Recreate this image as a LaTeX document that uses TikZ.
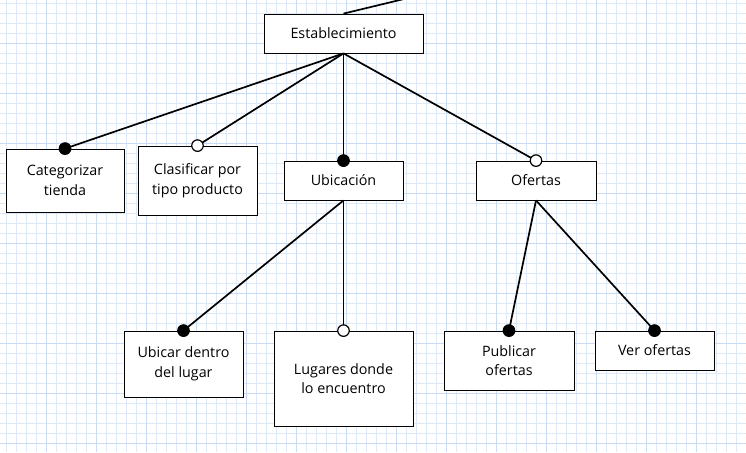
\documentclass[tikz,border=0pt]{standalone}
\usepackage{fontspec}
\setmainfont{Open Sans}
\begin{document}
\begin{tikzpicture}[x=1pt,y=-1pt,
  box/.style={draw=black, line width=0.8pt, fill=white, align=center, inner sep=0pt, font=\fontsize{14.3}{19.5}\selectfont},
  conn/.style={line width=1.7pt},
  fdot/.style={circle, fill=black, draw=black, line width=1.2pt, minimum size=11.5pt, inner sep=0pt},
  hdot/.style={fdot, fill=white},
  minorgrid/.style={draw={rgb,255:red,222;green,233;blue,248}, line width=0.9pt},
  majorgrid/.style={draw={rgb,255:red,200;green,219;blue,242}, line width=1.2pt}]
\useasboundingbox (0,0) rectangle (746,452);
\fill[white] (0,0) rectangle (746,452);
\foreach \x in {6.7,16.7,...,746} \draw[minorgrid] (\x,0) -- (\x,452);
\foreach \y in {3.3,13.3,...,452} \draw[minorgrid] (0,\y) -- (746,\y);
\foreach \x in {46.7,96.7,...,746} \draw[majorgrid] (\x,0) -- (\x,452);
\foreach \y in {43.3,93.3,...,452} \draw[majorgrid] (0,\y) -- (746,\y);

\node[box, minimum width=159pt, minimum height=39pt] (est) at (343.5,33.5) {Establecimiento};
\node[box, minimum width=118pt, minimum height=63pt] (cat) at (65,180.5) {Categorizar\\tienda};
\node[box, minimum width=119pt, minimum height=69pt] (cla) at (197.5,180.5) {Clasificar por\\tipo producto};
\node[box, minimum width=119pt, minimum height=39pt] (ubi) at (343.5,180.5) {Ubicación};
\node[box, minimum width=120pt, minimum height=39pt] (ofe) at (536,180.5) {Ofertas};
\node[box, minimum width=119pt, minimum height=66pt] (ubd) at (183.5,364) {Ubicar dentro\\del lugar};
\node[box, minimum width=139pt, minimum height=95pt] (lug) at (343.5,378.5) {Lugares donde\\lo encuentro};
\node[box, minimum width=130pt, minimum height=59pt] (pub) at (509,360.5) {Publicar\\ofertas};
\node[box, minimum width=119pt, minimum height=39pt] (ver) at (654.5,350.5) {Ver ofertas};

\coordinate (topend) at (404,-1);
\draw[conn] (est.north) -- (topend);
\foreach \c in {cat,cla,ubi,ofe} \draw[conn] (est.south) -- (\c.north);
\foreach \c in {ubd,lug} \draw[conn] (ubi.south) -- (\c.north);
\foreach \c in {pub,ver} \draw[conn] (ofe.south) -- (\c.north);

\node[fdot] (dcat) at (cat.north) {};
\node[hdot] (dcla) at (cla.north) {};
\node[fdot] (dubi) at (ubi.north) {};
\node[hdot] (dofe) at (ofe.north) {};
\node[fdot] (dubd) at (ubd.north) {};
\node[hdot] (dlug) at (lug.north) {};
\node[fdot] (dpub) at (pub.north) {};
\node[fdot] (dver) at (ver.north) {};
\end{tikzpicture}
\end{document}
